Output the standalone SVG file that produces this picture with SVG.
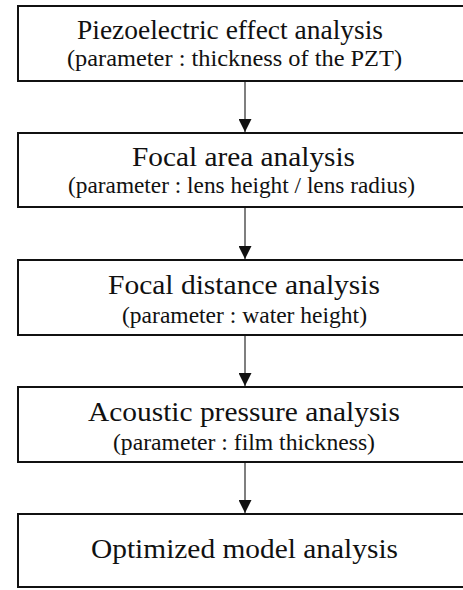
<svg xmlns="http://www.w3.org/2000/svg" width="463" height="590" viewBox="0 0 463 590">
  <style>
    .box { fill: #ffffff; stroke: #111111; stroke-width: 2; }
    .title { font-family: "Liberation Serif", "Times New Roman", serif; font-size: 28px; fill: #111111; }
    .sub { font-family: "Liberation Serif", "Times New Roman", serif; font-size: 23px; fill: #111111; }
    .link { stroke: #555555; stroke-width: 1.5; fill: none; }
  </style>
  <defs>
    <marker id="arrow" markerUnits="userSpaceOnUse" markerWidth="14" markerHeight="13" refX="13" refY="6.5" orient="auto">
      <path d="M0,0 L13,6.5 L0,13 Z" fill="#111111"/>
    </marker>
  </defs>
  <rect width="463" height="590" fill="#ffffff"/>

  <g id="connectors">
    <line class="link" x1="245" y1="82" x2="245" y2="132" marker-end="url(#arrow)"/>
    <line class="link" x1="245" y1="208" x2="245" y2="259" marker-end="url(#arrow)"/>
    <line class="link" x1="245" y1="336" x2="245" y2="386" marker-end="url(#arrow)"/>
    <line class="link" x1="245" y1="463" x2="245" y2="513" marker-end="url(#arrow)"/>
  </g>

  <g id="piezo">
    <rect class="box" x="18" y="6" width="460" height="75"/>
    <text class="title" x="77" y="39" textLength="306" lengthAdjust="spacingAndGlyphs">Piezoelectric effect analysis</text>
    <text class="sub" x="67" y="66" textLength="335" lengthAdjust="spacingAndGlyphs">(parameter : thickness of the PZT)</text>
  </g>

  <g id="focal-area">
    <rect class="box" x="18" y="133" width="460" height="74"/>
    <text class="title" x="132" y="166" textLength="223" lengthAdjust="spacingAndGlyphs">Focal area analysis</text>
    <text class="sub" x="68" y="193" textLength="347" lengthAdjust="spacingAndGlyphs">(parameter : lens height / lens radius)</text>
  </g>

  <g id="focal-distance">
    <rect class="box" x="18" y="260" width="460" height="75"/>
    <text class="title" x="108" y="294" textLength="272" lengthAdjust="spacingAndGlyphs">Focal distance analysis</text>
    <text class="sub" x="122" y="323" textLength="245" lengthAdjust="spacingAndGlyphs">(parameter : water height)</text>
  </g>

  <g id="acoustic-pressure">
    <rect class="box" x="18" y="387" width="460" height="75"/>
    <text class="title" x="88" y="421" textLength="312" lengthAdjust="spacingAndGlyphs">Acoustic pressure analysis</text>
    <text class="sub" x="113" y="450" textLength="262" lengthAdjust="spacingAndGlyphs">(parameter : film thickness)</text>
  </g>

  <g id="optimized-model">
    <rect class="box" x="18" y="514" width="460" height="73"/>
    <text class="title" x="91" y="558" textLength="307" lengthAdjust="spacingAndGlyphs">Optimized model analysis</text>
  </g>
</svg>
